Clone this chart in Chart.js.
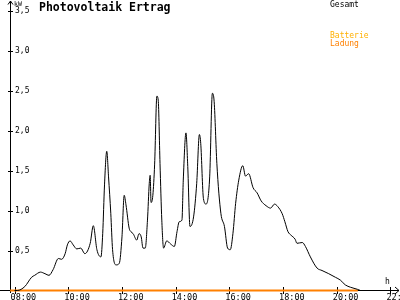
<!DOCTYPE html>
<html>
<head>
<meta charset="utf-8">
<script src="https://cdn.jsdelivr.net/npm/chart.js@4"></script>
<style>
  html, body { margin: 0; padding: 0; background: #fff; }
  #chart { display: block; }
</style>
</head>
<body>
<canvas id="chart" width="400" height="300"></canvas>
<script>
// Gesamt (kW) over the day
const times = ['08:00','08:06','08:23','08:38','08:45','08:58',
  '09:08','09:17','09:26','09:38','09:45','09:53','09:58',
  '10:04','10:11','10:19','10:28','10:37','10:49','10:56',
  '11:04','11:13','11:17','11:21','11:26','11:30','11:35','11:39','11:47','11:54',
  '12:00','12:05','12:09','12:16','12:20','12:25','12:33','12:38','12:43','12:47','12:52','12:57',
  '13:01','13:03','13:05','13:09','13:13','13:18','13:21','13:25','13:29','13:33','13:40','13:49','13:57',
  '14:03','14:08','14:14','14:17','14:23','14:27','14:32','14:40','14:47','14:53','14:56',
  '15:02','15:08','15:16','15:22','15:26','15:32','15:41','15:49','15:56',
  '16:02','16:08','16:14','16:21','16:30','16:36','16:43','16:53',
  '17:02','17:11','17:22','17:32','17:41','17:48','17:58',
  '18:04','18:11','18:18','18:27','18:31','18:43','18:50',
  '19:01','19:16','19:27','19:42','19:57',
  '20:08','20:19','20:31','20:46','20:53'];
const gesamt = [0,0,0.05,0.165,0.19,0.23,
  0.21,0.19,0.26,0.40,0.39,0.46,0.57,
  0.62,0.57,0.52,0.53,0.46,0.59,0.81,
  0.51,0.42,0.715,1.32,1.74,1.42,0.965,0.51,0.32,0.34,
  0.67,1.19,1.07,0.78,0.735,0.71,0.63,0.71,0.67,0.53,0.53,0.88,
  1.34,1.44,1.10,1.19,1.58,2.43,2.38,1.59,0.88,0.53,0.62,0.58,0.55,
  0.735,0.86,0.88,1.38,1.97,1.55,0.80,0.92,1.34,1.95,1.84,
  1.15,1.08,1.42,2.465,2.36,1.59,0.965,0.80,0.53,
  0.51,0.715,1.09,1.38,1.56,1.43,1.46,1.285,
  1.22,1.12,1.06,1.03,1.08,1.05,0.96,
  0.86,0.735,0.69,0.64,0.59,0.60,0.55,
  0.42,0.28,0.25,0.21,0.165,
  0.13,0.07,0.04,0.015,0];

// Batterie Ladung stays at zero
const ladungTimes = ['07:50', '20:47'];
const ladung = [0, 0];

const yTicks = [0.5, 1, 1.5, 2, 2.5, 3, 3.5];
const xTicks = [8, 10, 12, 14, 16, 18, 20, 22];

const toHours = t => { const [h, m] = t.split(':').map(Number); return h + m / 60; };
const pts = (ts, vs) => ts.map((t, i) => ({ x: toHours(t), y: vs[i] }));
const FONT = '"DejaVu Sans Mono", monospace';

const axesPlugin = {
  id: 'axes',
  beforeDatasetsDraw(chart) {
    const { ctx, scales: { x, y } } = chart;
    const x0 = Math.round(x.left) + 0.5;
    const y0 = y.getPixelForValue(0);
    ctx.save();
    ctx.strokeStyle = '#000';
    ctx.lineWidth = 1;
    ctx.beginPath();
    // y axis with arrow
    ctx.moveTo(x0, 293); ctx.lineTo(x0, 1);
    ctx.moveTo(x0 - 2.5, 4.5); ctx.lineTo(x0, 1); ctx.lineTo(x0 + 2.5, 4.5);
    // x axis with arrow
    ctx.moveTo(0, y0); ctx.lineTo(399, y0);
    ctx.moveTo(395, y0 - 3.5); ctx.lineTo(399, y0); ctx.lineTo(395, y0 + 3.5);
    // tick marks
    yTicks.forEach(v => {
      const py = Math.round(y.getPixelForValue(v)) + 0.5;
      ctx.moveTo(x0 - 2.5, py); ctx.lineTo(x0 + 2.5, py);
    });
    xTicks.forEach(v => {
      const px = Math.round(x.getPixelForValue(v)) + 0.5;
      ctx.moveTo(px, y0 - 3.5); ctx.lineTo(px, y0 + 3.5);
    });
    ctx.stroke();
    ctx.restore();
  },
  afterDraw(chart) {
    const { ctx } = chart;
    ctx.save();
    ctx.textBaseline = 'alphabetic';
    ctx.fillStyle = '#000';
    ctx.font = 'bold 11.5px ' + FONT;
    ctx.fillText('Photovoltaik Ertrag', 39, 10.5);
    ctx.font = '8px ' + FONT;
    ctx.fillText('Gesamt', 330, 7);
    ctx.fillText('h', 385, 283.5);
    ctx.fillStyle = '#FFB000';
    ctx.fillText('Batterie', 330, 37.5);
    ctx.fillStyle = '#FF8000';
    ctx.fillText('Ladung', 330, 45.5);
    ctx.fillStyle = '#000';
    ctx.font = '6.5px ' + FONT;
    ctx.fillText('kW', 14, 5.5);
    ctx.restore();
  }
};

const noPad = s => { s.paddingLeft = s.paddingRight = s.paddingTop = s.paddingBottom = 0; };

new Chart(document.getElementById('chart'), {
  type: 'line',
  data: {
    datasets: [{
      label: 'Gesamt',
      data: pts(times, gesamt),
      borderColor: '#000',
      borderWidth: 1,
      pointRadius: 0,
      cubicInterpolationMode: 'monotone',
      clip: false
    }, {
      label: 'Batterie Ladung',
      data: pts(ladungTimes, ladung),
      borderColor: '#FF8000',
      borderWidth: 2,
      pointRadius: 0,
      clip: false
    }]
  },
  options: {
    responsive: false,
    animation: false,
    events: [],
    layout: { padding: { top: 2.5, right: 2, left: 0, bottom: 0 } },
    plugins: { legend: { display: false }, tooltip: { enabled: false } },
    scales: {
      x: {
        type: 'linear',
        min: 7.83,
        max: 22.28,
        grid: { display: false, drawTicks: false },
        border: { display: false },
        afterBuildTicks: s => { s.ticks = xTicks.map(v => ({ value: v })); },
        afterFit: s => { s.height = 9.5; noPad(s); },
        ticks: {
          autoSkip: false,
          maxRotation: 0,
          align: 'start',
          labelOffset: -4,
          padding: 2,
          color: '#000',
          font: { family: FONT, size: 8.5 },
          callback: v => String(v).padStart(2, '0') + ':00'
        }
      },
      y: {
        min: 0,
        max: 3.6,
        grid: { display: false, drawTicks: false },
        border: { display: false },
        afterBuildTicks: s => { s.ticks = yTicks.map(v => ({ value: v })); },
        afterFit: s => { s.width = 10; noPad(s); },
        ticks: {
          mirror: true,
          padding: 5,
          color: '#000',
          font: { family: FONT, size: 8 },
          callback: v => v.toFixed(1).replace('.', ',')
        }
      }
    }
  },
  plugins: [axesPlugin]
});
</script>
</body>
</html>
